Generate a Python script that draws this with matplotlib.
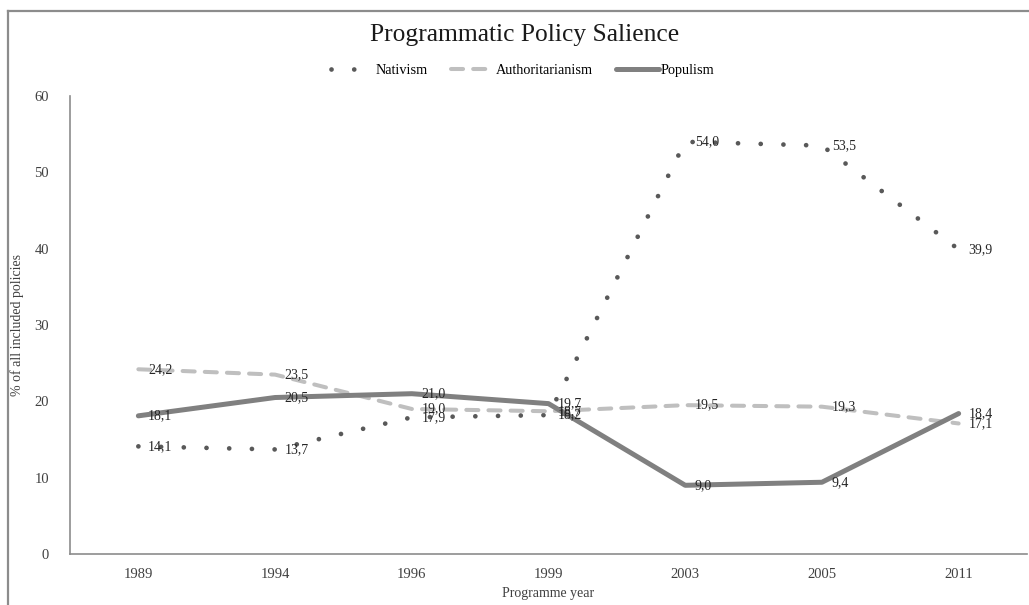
import matplotlib
matplotlib.use('Agg')
import matplotlib.pyplot as plt
from matplotlib.lines import Line2D

plt.rcParams['font.family'] = ['Liberation Serif', 'DejaVu Serif']

years = ['1989', '1994', '1996', '1999', '2003', '2005', '2011']
nativism = [14.1, 13.7, 17.9, 18.2, 54.0, 53.5, 39.9]
authoritarianism = [24.2, 23.5, 19.0, 18.7, 19.5, 19.3, 17.1]
populism = [18.1, 20.5, 21.0, 19.7, 9.0, 9.4, 18.4]

DOTS = dict(color='#595959', lw=3.4, linestyle=(0, (0.01, 4.8)), dash_capstyle='round')
DASH = dict(color='#bfbfbf', lw=2.9, linestyle=(0, (3.0, 2.5)), dash_capstyle='round')
SOLID = dict(color='#808080', lw=3.6, solid_capstyle='round', solid_joinstyle='round')


def label(value):
    return ('%.1f' % value).replace('.', ',')


def main():
    fig = plt.figure(figsize=(10.29, 6.05), dpi=100)
    ax = fig.add_axes([70 / 1029, 51 / 605, 957 / 1029, 458 / 605])
    x = list(range(len(years)))

    ax.plot(x, nativism, **DOTS)
    ax.plot(x, authoritarianism, **DASH)
    ax.plot(x, populism, **SOLID)

    # etykiety danych po prawej stronie punktow
    for series in (nativism, authoritarianism, populism):
        for i, v in enumerate(series):
            ax.annotate(label(v), (i, v), xytext=(7, 0), textcoords='offset points',
                        ha='left', va='center', fontsize=10, color='#262626')

    ax.set_xlim(-0.5, 6.5)
    ax.set_ylim(0, 60)
    ax.set_xticks(x)
    ax.set_xticklabels(years)
    ax.set_yticks(range(0, 61, 10))
    ax.tick_params(axis='both', length=0, labelsize=10.5, colors='#404040')
    ax.tick_params(axis='y', pad=15)
    ax.tick_params(axis='x', pad=10)
    for side in ('top', 'right'):
        ax.spines[side].set_visible(False)
    for side in ('left', 'bottom'):
        ax.spines[side].set_color('#8c8c8c')
        ax.spines[side].set_linewidth(1.2)

    ax.set_ylabel('% of all included policies', fontsize=10, color='#404040')
    ax.yaxis.set_label_coords(-46 / 957, 0.5)
    ax.set_xlabel('Programme year', fontsize=10, color='#404040')
    ax.xaxis.set_label_coords(0.5, -33 / 458)
    fig.text(0.51, 0.942, 'Programmatic Policy Salience', ha='center', va='center',
             fontsize=18.4, color='#1a1a1a')

    handles = [Line2D([], [], **DOTS), Line2D([], [], **DASH), Line2D([], [], **SOLID)]
    fig.legend(handles, ['Nativism', 'Authoritarianism', 'Populism'], loc='center',
               bbox_to_anchor=(0.508, 0.884), ncol=3, frameon=False, fontsize=10.3,
               handlelength=3.0, columnspacing=1.6, handletextpad=0.15)

    # ramka wykresu (widoczna tylko u gory i z lewej)
    top = 1 - 11 / 605
    left = 8 / 1029
    fig.add_artist(Line2D([left, 1.0], [top, top], transform=fig.transFigure,
                          color='#8c8c8c', lw=1.6))
    fig.add_artist(Line2D([left, left], [0.0, top], transform=fig.transFigure,
                          color='#8c8c8c', lw=1.6))

    fig.savefig('out.png', dpi=100)


if __name__ == '__main__':
    main()
